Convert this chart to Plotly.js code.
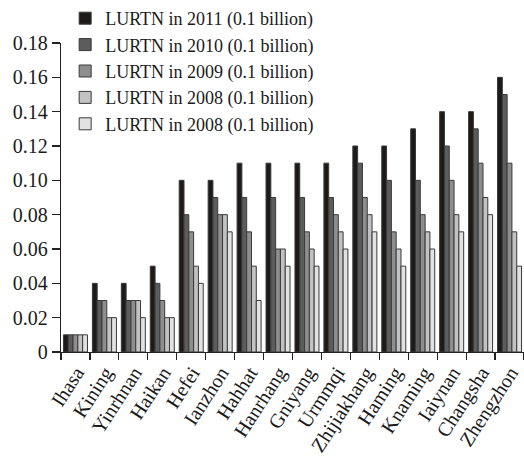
<!DOCTYPE html>
<html>
<head>
<meta charset="utf-8">
<script src="https://cdn.plot.ly/plotly-3.0.1.min.js"></script>
<style>html,body{margin:0;padding:0;background:#fff;}#chart{width:524px;height:471px;}</style>
</head>
<body>
<div id="chart"></div>
<script>
const cities = ["Ihasa","Kining","Yinrhnan","Haikan","Hefei","Ianzhon","Hahhat","Hanrhang","Gniyang","Urmmqi","Zhijiakhang","Haming","Knaming","Iaiynan","Changsha","Zhengzhon"];
const seriesNames = ["LURTN in 2011 (0.1 billion)","LURTN in 2010 (0.1 billion)","LURTN in 2009 (0.1 billion)","LURTN in 2008 (0.1 billion)","LURTN in 2008 (0.1 billion)"];
const v2011 = [0.01,0.04,0.04,0.05,0.10,0.10,0.11,0.11,0.11,0.11,0.12,0.12,0.13,0.14,0.14,0.16];
const v2010 = [0.01,0.03,0.03,0.04,0.08,0.09,0.09,0.09,0.09,0.09,0.11,0.10,0.10,0.12,0.13,0.15];
const v2009 = [0.01,0.03,0.03,0.03,0.07,0.08,0.07,0.06,0.07,0.08,0.09,0.07,0.08,0.10,0.11,0.11];
const v2008 = [0.01,0.02,0.03,0.02,0.05,0.08,0.05,0.06,0.06,0.07,0.08,0.06,0.07,0.08,0.09,0.07];
const v2008b = [0.01,0.02,0.02,0.02,0.04,0.07,0.03,0.05,0.05,0.06,0.07,0.05,0.06,0.07,0.08,0.05];
const yTickVals = [0,0.02,0.04,0.06,0.08,0.10,0.12,0.14,0.16,0.18];
const yTickText = ["0","0.02","0.04","0.06","0.08","0.10","0.12","0.14","0.16","0.18"];

const colors = ["#1e1a17","#5c5c5c","#8e8e8e","#c2c2c2","#e2e2e2"];
const allVals = [v2011,v2010,v2009,v2008,v2008b];
const traces = allVals.map((vals,i)=>({
  type:"bar", x:cities, y:vals, name:seriesNames[i],
  marker:{color:colors[i], line:{color:"#3a3a3a", width:1}},
  hoverinfo:"x+y"
}));
const fam = "Liberation Serif, Times New Roman, serif";
const layout = {
  width:524, height:471,
  margin:{l:61, r:0, t:42, b:119, pad:0},
  paper_bgcolor:"#fff", plot_bgcolor:"#fff",
  font:{family:fam, size:20, color:"#1a1a1a"},
  barmode:"group", bargap:0.17, bargroupgap:0,
  showlegend:true,
  legend:{x:0.009, y:1.14, xanchor:"left", yanchor:"top", bgcolor:"rgba(0,0,0,0)", font:{family:fam, size:18, color:"#1a1a1a"}, tracegroupgap:0, traceorder:"normal"},
  xaxis:{type:"category", range:[-0.5,15.5], showline:true, linecolor:"#222", linewidth:1.2,
    ticks:"outside", tickson:"boundaries", ticklen:7, tickcolor:"#222", tickwidth:1.2,
    tickangle:-57, ticklabelshift:1, showgrid:false, zeroline:false, automargin:false, tickfont:{family:fam,size:20,color:"#1a1a1a"}},
  yaxis:{range:[0,0.18], showline:true, linecolor:"#222", linewidth:1.2,
    ticks:"outside", ticklen:8, tickcolor:"#222", tickwidth:1.2,
    tickvals:yTickVals, ticktext:yTickText, showgrid:false, zeroline:false, automargin:false,
    tickfont:{family:fam,size:20,color:"#1a1a1a"}}
};
Plotly.newPlot("chart", traces, layout, {displayModeBar:false, staticPlot:true});
</script>
</body>
</html>
